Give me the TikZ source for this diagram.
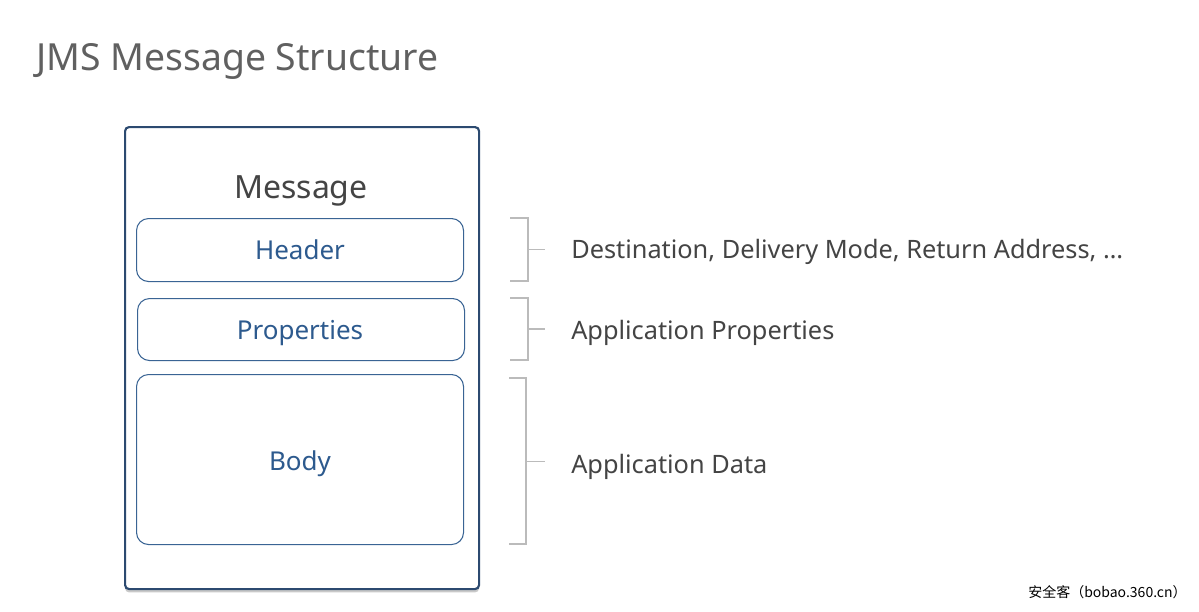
\documentclass[tikz,border=0pt]{standalone}
\usepackage{fontspec}
\setmainfont{Noto Sans}
\newfontfamily\cjk{Noto Sans CJK SC}
\usetikzlibrary{shadows}
\definecolor{outerblue}{HTML}{2C4A70}
\definecolor{innerblue}{HTML}{3A6494}
\definecolor{textblue}{HTML}{2D5A8E}
\definecolor{labelgray}{HTML}{444444}
\definecolor{bracketgray}{HTML}{BBBBBB}
\tikzset{
  outerbox/.style={draw=outerblue, line width=1.6pt, rounded corners=3pt, fill=white,
    drop shadow={shadow xshift=0pt, shadow yshift=-2.5pt, opacity=0.35, fill=black!60}},
  partbox/.style={draw=innerblue, line width=0.8pt, rounded corners=9pt, fill=white},
  parttext/.style={text=textblue, font=\fontsize{19.5}{22}\selectfont},
  label/.style={text=labelgray, font=\fontsize{19}{22}\selectfont, anchor=base west},
  brk/.style={draw=bracketgray, line width=0.8pt},
}
\begin{document}
\begin{tikzpicture}[x=0.75pt, y=-0.75pt]
\useasboundingbox (0,0) rectangle (1199,611);
\fill[white] (0,0) rectangle (1199,611);
% title
\node[anchor=base west, inner sep=0, text=labelgray!85, font=\fontsize{28}{32}\selectfont] (title) at (36,70) {JMS Message Structure};
% outer box
\node[outerbox, minimum width=354*0.75pt, minimum height=462*0.75pt, anchor=north west, inner sep=0] (msg) at (124,126) {};
\node[anchor=base, inner sep=0, text=labelgray, font=\fontsize{24}{28}\selectfont] (msgt) at (301,198) {Message};
% parts
\node[partbox, minimum width=327*0.75pt, minimum height=63*0.75pt, anchor=north west, inner sep=0] (header) at (136,218) {};
\node[parttext, anchor=base, inner sep=0] (headert) at (300,259) {Header};
\node[partbox, minimum width=327*0.75pt, minimum height=62*0.75pt, anchor=north west, inner sep=0] (props) at (137,298) {};
\node[parttext, anchor=base, inner sep=0] (propst) at (300,339) {Properties};
\node[partbox, minimum width=327*0.75pt, minimum height=170*0.75pt, anchor=north west, inner sep=0] (body) at (136,374) {};
\node[parttext, anchor=base, inner sep=0] (bodyt) at (300,470) {Body};
% brackets
\coordinate (h1) at (510,218); \coordinate (h2) at (528,218); \coordinate (h3) at (528,281); \coordinate (h4) at (510,281);
\coordinate (hm) at (528,249.5); \coordinate (he) at (545,249.5);
\draw[brk] (h1) -- (h2) -- (h3) -- (h4); \draw[brk] (hm) -- (he);
\coordinate (p1) at (510,298); \coordinate (p2) at (528,298); \coordinate (p3) at (528,360); \coordinate (p4) at (510,360);
\coordinate (pm) at (528,329); \coordinate (pe) at (545,329);
\draw[brk] (p1) -- (p2) -- (p3) -- (p4); \draw[brk] (pm) -- (pe);
\coordinate (b1) at (509,378); \coordinate (b2) at (526,378); \coordinate (b3) at (526,544); \coordinate (b4) at (509,544);
\coordinate (bm) at (526,461.5); \coordinate (be) at (545,461.5);
\draw[brk] (b1) -- (b2) -- (b3) -- (b4); \draw[brk] (bm) -- (be);
% labels
\node[label, inner sep=0] (hl) at (571,258) {Destination, Delivery Mode, Return Address, …};
\node[label, inner sep=0] (pl) at (571,339) {Application Properties};
\node[label, inner sep=0] (bl) at (571,473) {Application Data};
% watermark
\node[anchor=base west, inner sep=0, font=\fontsize{10.5}{12}\cjk] (wm) at (1028,597) {安全客（bobao.360.cn）};
\end{tikzpicture}
\end{document}
